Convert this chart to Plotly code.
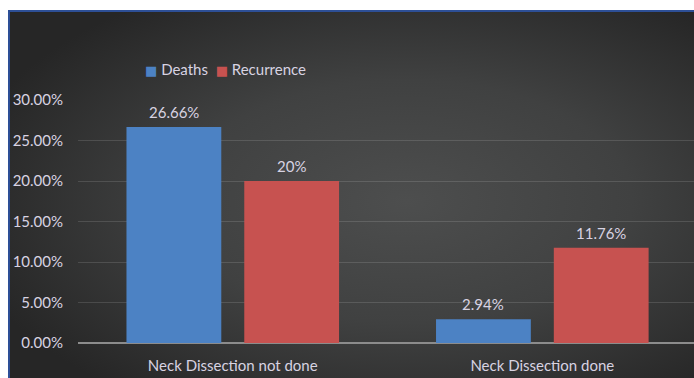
import plotly.graph_objects as go
import urllib.parse

categories = ["Neck Dissection not done", "Neck Dissection done"]
deaths = [0.2666, 0.0294]
recurrence = [0.20, 0.1176]
deaths_labels = ["26.66%", "2.94%"]
recurrence_labels = ["20%", "11.76%"]
series_names = ["Deaths", "Recurrence"]
series_colors = ["#4c82c4", "#c75250"]

W, H = 694, 378
L, R, T, B = 78, 0, 100, 35
pw, ph = W - L - R, H - T - B

svg = f"""<svg xmlns='http://www.w3.org/2000/svg' width='{W}' height='{H}' viewBox='0 0 {W} {H}'>
<defs>
<radialGradient id='g' cx='0.58' cy='0.52' r='0.66' fx='0.58' fy='0.52'>
<stop offset='0' stop-color='#4d4e4e'/>
<stop offset='0.5' stop-color='#404141'/>
<stop offset='1' stop-color='#262626'/>
</radialGradient>
</defs>
<rect x='0' y='0' width='{W}' height='{H}' fill='#ffffff'/>
<rect x='8' y='10' width='{W-8}' height='{H-10}' fill='url(#g)'/>
<rect x='8' y='10' width='{W-8}' height='2' fill='#2d4f96'/>
<rect x='8' y='10' width='2' height='{H-10}' fill='#2d4f96'/>
</svg>"""
src = "data:image/svg+xml;charset=utf-8," + urllib.parse.quote(svg)

txt_color = "#d8d3e2"
font_family = "Lato, 'Open Sans', sans-serif"
FS = 15
NB = "\u00a0"

fig = go.Figure()
for name, vals, col in zip(series_names, [deaths, recurrence], series_colors):
    fig.add_trace(go.Bar(
        name=name, x=categories, y=vals,
        marker=dict(color=col, line=dict(width=0)),
        showlegend=False,
    ))

annotations = []
# value labels above bars
slot_half = 59  # px offset of each bar in its group
for vals, labels, shift in [(deaths, deaths_labels, -slot_half),
                            (recurrence, recurrence_labels, slot_half)]:
    for c, v, lab in zip(categories, vals, labels):
        annotations.append(dict(
            x=c, y=v, xref="x", yref="y", text=lab, showarrow=False,
            xshift=shift, yshift=4, yanchor="bottom", xanchor="center",
            font=dict(size=FS, color=txt_color, family=font_family),
        ))

# legend (square markers followed by names)
legend_text = (NB * 2).join(
    f"<span style='color:{col};font-size:13px;font-family:DejaVu Sans'>■</span>{NB}{name}"
    for name, col in zip(series_names, series_colors)
)
annotations.append(dict(
    x=(143 - L) / pw, y=(H - B - 69) / ph, xref="paper", yref="paper",
    text=legend_text, showarrow=False, xanchor="left", yanchor="middle",
    font=dict(size=FS, color=txt_color, family=font_family),
))

fig.update_layout(
    width=W, height=H,
    margin=dict(l=L, r=R, t=T, b=B, pad=0),
    paper_bgcolor="#2e2e2e",
    plot_bgcolor="rgba(0,0,0,0)",
    barmode="group",
    bargap=0.239,
    bargroupgap=0.195,
    font=dict(family=font_family, size=FS, color=txt_color),
    images=[dict(
        source=src, xref="paper", yref="paper",
        x=-L / pw, y=(H - B) / ph, sizex=W / pw, sizey=H / ph,
        xanchor="left", yanchor="top", sizing="stretch", layer="below",
    )],
    annotations=annotations,
    showlegend=False,
    xaxis=dict(
        range=[-0.5, 1.49], showgrid=False, ticks="", showline=False,
        tickfont=dict(size=FS, color=txt_color), ticklabelstandoff=12,
    ),
    yaxis=dict(
        range=[0, 0.30], dtick=0.05, tickformat=".2%",
        gridcolor="rgba(255,255,255,0.13)", gridwidth=1,
        zeroline=True, zerolinecolor="#8c8c8c", zerolinewidth=1.5,
        showline=False, ticks="", ticklabelstandoff=14,
        tickfont=dict(size=FS, color=txt_color),
    ),
)

fig.write_html("out.html")
